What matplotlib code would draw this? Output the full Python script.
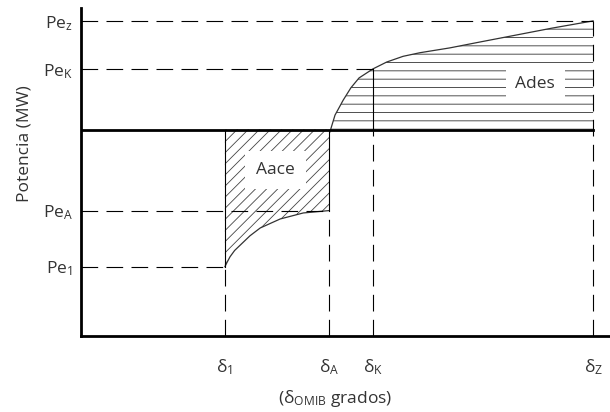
import numpy as np
import matplotlib
matplotlib.use("Agg")
import matplotlib.pyplot as plt

plt.rcParams['font.family'] = ['Open Sans', 'DejaVu Sans']
plt.rcParams['mathtext.default'] = 'regular'
plt.rcParams['lines.scale_dashes'] = False
plt.rcParams['hatch.linewidth'] = 0.6

# angulos (unidades arbitrarias)
d_1 = 28.1
d_A = 48.5
d_K = 57.0
d_Z = 100.0
x_max = 103.3

# potencias
pe_z = 105.0
pe_k = 89.0
pm = 68.8
pe_a = 41.8
pe_1 = 23.1
y_max = 109.3

# curva durante la falla (d_1 -> d_A)
falla_d = [28.1, 28.6, 29.1, 30.0, 31.1, 33.0, 35.0, 38.9, 43.4, 48.5]
falla_p = [23.1, 24.8, 26.4, 28.5, 30.3, 33.4, 36.0, 39.0, 41.0, 41.8]

# curva post-falla (d_A -> d_Z)
post_d = [48.6, 49.6, 51.2, 52.7, 54.3, 57.0, 59.7, 62.9, 66.2, 72.0, 78.0, 84.4, 92.0, 100.0]
post_p = [68.0, 73.6, 78.6, 82.7, 86.0, 89.0, 91.3, 93.2, 94.4, 96.0, 98.0, 100.1, 102.6, 105.0]

y_ticks = [pe_1, pe_a, pe_k, pe_z]
y_labels = ["Pe$_1$", "Pe$_A$", "Pe$_K$", "Pe$_z$"]
x_ticks = [d_1, d_A, d_K, d_Z]
x_labels = ["δ$_1$", "δ$_A$", "δ$_K$", "δ$_Z$"]

fig = plt.figure(figsize=(6.10, 4.12), dpi=100)
ax = fig.add_axes([81/610, 76/412, 529/610, 328/412])

dash = dict(color="black", lw=0.8, dashes=(12, 6))
solid = dict(color="black", lw=0.8)
txt = "#333333"

# areas
ax.fill_between(falla_d, falla_p, pm, facecolor="none", edgecolor="#444444",
                hatch="///", linewidth=0)
ax.fill_between(post_d, pm, post_p, facecolor="none", edgecolor="#333333",
                hatch="--", linewidth=0)

# curvas
ax.plot(falla_d, falla_p, color="#333333", lw=0.9)
ax.plot(post_d, post_p, color="#333333", lw=0.9)

# lineas horizontales punteadas
ax.plot([0, d_Z], [pe_z, pe_z], **dash)
ax.plot([0, d_K], [pe_k, pe_k], **dash)
ax.plot([0, d_A], [pe_a, pe_a], **dash)
ax.plot([0, d_1], [pe_1, pe_1], **dash)

# verticales
ax.plot([d_1, d_1], [0, pe_1], **dash)
ax.plot([d_1, d_1], [pe_1, pm], **solid)
ax.plot([d_A, d_A], [0, pe_a], **dash)
ax.plot([d_A, d_A], [pe_a, pm], **solid)
ax.plot([d_K, d_K], [0, pm], **dash)
ax.plot([d_K, d_K], [pm, pe_k], **solid)
ax.plot([d_Z, d_Z], [0, pe_z], **dash)

# potencia mecanica
ax.plot([0, d_Z], [pm, pm], color="black", lw=2.0)

ax.text(37.9, 55.3, "Aace", ha="center", va="center", fontsize=12.5,
        color=txt, bbox=dict(facecolor="white", edgecolor="none", pad=8))
ax.text(88.7, 84.0, "Ades", ha="center", va="center", fontsize=12.5,
        color=txt, bbox=dict(facecolor="white", edgecolor="none", pad=7))

ax.set_xlim(0, x_max)
ax.set_ylim(0, y_max)
ax.spines["top"].set_visible(False)
ax.spines["right"].set_visible(False)
ax.spines["left"].set_linewidth(2.0)
ax.spines["bottom"].set_linewidth(2.0)

ax.set_yticks(y_ticks, y_labels)
ax.set_xticks(x_ticks, x_labels)
ax.tick_params(axis="y", length=0, pad=6, labelsize=12.5, labelcolor=txt)
ax.tick_params(axis="x", length=0, pad=15, labelsize=12.5, labelcolor=txt)

ax.set_ylabel("Potencia (MW)", fontsize=12.5, color=txt)
ax.yaxis.set_label_coords(-0.092, 0.585)
ax.set_xlabel("(δ$_{OMIB}$ grados)", fontsize=12.5, color=txt)
ax.xaxis.set_label_coords(0.48, -0.16)

fig.savefig("out.png", dpi=100)
